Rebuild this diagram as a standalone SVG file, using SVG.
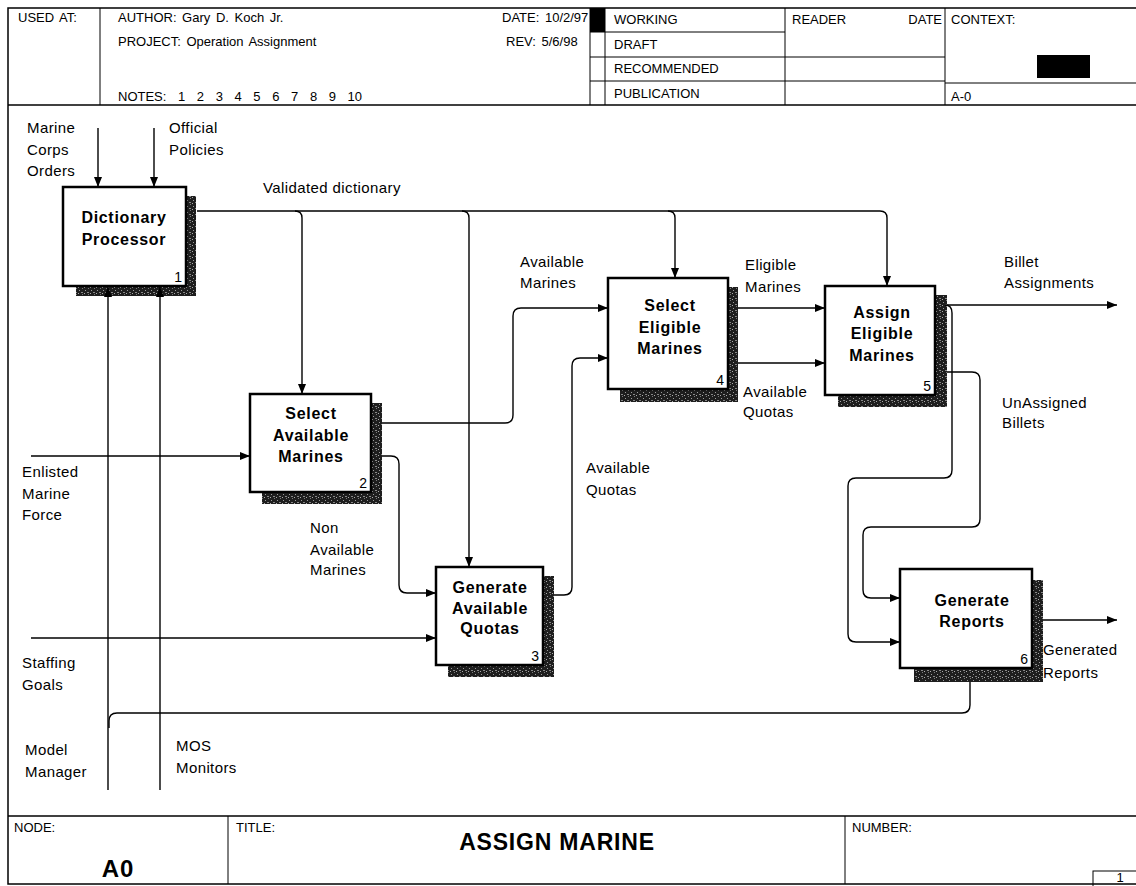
<svg xmlns="http://www.w3.org/2000/svg" width="1136" height="886" viewBox="0 0 1136 886">
<defs>
<marker id="ah" viewBox="0 0 10 8" refX="10" refY="4" markerWidth="11" markerHeight="8" markerUnits="userSpaceOnUse" orient="auto">
<path d="M0,0 L10,4 L0,8 z" fill="#000"/>
</marker>
<pattern id="speck" width="6" height="6" patternUnits="userSpaceOnUse">
<rect width="6" height="6" fill="#1e1e1e"/>
<rect x="1" y="2" width="1" height="1" fill="#9a9a9a"/>
<rect x="4" y="0" width="1" height="1" fill="#7a7a7a"/>
<rect x="3" y="4" width="2" height="1" fill="#888"/>
<rect x="0" y="5" width="1" height="1" fill="#aaa"/>
</pattern>
<style>
.frame{fill:none;stroke:#000;stroke-width:1.5}
.hl{fill:none;stroke:#000;stroke-width:1}
.hdr{font-family:"Liberation Sans",Arial,sans-serif;font-size:13px;fill:#000;word-spacing:2px}
.lbl{font-family:"Liberation Sans",Arial,sans-serif;font-size:15px;letter-spacing:0.4px;fill:#000}
.bt{font-family:"Liberation Sans",Arial,sans-serif;font-size:16px;letter-spacing:0.7px;font-weight:bold;fill:#000;text-anchor:middle}
.num{font-family:"Liberation Sans",Arial,sans-serif;font-size:14px;fill:#000;text-anchor:end}
.box{fill:#fff;stroke:#000;stroke-width:2.5}
.sh{fill:url(#speck)}
.c{fill:none;stroke:#000;stroke-width:1.4}
.a{marker-end:url(#ah)}
</style>
</defs>
<rect width="1136" height="886" fill="#fff"/>
<g id="frame">
<rect class="frame" x="8" y="8" width="1140" height="876"/>
<line class="frame" x1="8" y1="105" x2="1136" y2="105"/>
<line class="frame" x1="8" y1="816" x2="1136" y2="816"/>
<line class="hl" x1="100" y1="8" x2="100" y2="105"/>
<rect x="590" y="8" width="15" height="24" fill="#000"/>
<line class="hl" x1="605" y1="8" x2="605" y2="105"/>
<line class="hl" x1="785" y1="8" x2="785" y2="105"/>
<line class="hl" x1="945" y1="8" x2="945" y2="105"/>
<line class="hl" x1="590" y1="8" x2="590" y2="105"/>
<line class="hl" x1="590" y1="32" x2="785" y2="32"/>
<line class="hl" x1="590" y1="57" x2="945" y2="57"/>
<line class="hl" x1="590" y1="81" x2="945" y2="81"/>
<line class="hl" x1="945" y1="83" x2="1136" y2="83"/>
<rect x="1037" y="55" width="53" height="23" fill="#000"/>
<line class="hl" x1="228" y1="816" x2="228" y2="884"/>
<line class="hl" x1="845" y1="816" x2="845" y2="884"/>
<rect class="hl" x="1093" y="871" width="50" height="16"/>
<text class="hdr" x="18" y="22">USED AT:</text>
<text class="hdr" x="118" y="22">AUTHOR:  Gary D. Koch Jr.</text>
<text class="hdr" x="118" y="46">PROJECT:  Operation Assignment</text>
<text class="hdr" x="118" y="101" style="word-spacing:8px">NOTES: 1 2 3 4 5 6 7 8 9 10</text>
<text class="hdr" x="502" y="22">DATE: 10/2/97</text>
<text class="hdr" x="506" y="46">REV:  5/6/98</text>
<text class="hdr" x="614" y="24">WORKING</text>
<text class="hdr" x="614" y="49">DRAFT</text>
<text class="hdr" x="614" y="73">RECOMMENDED</text>
<text class="hdr" x="614" y="98">PUBLICATION</text>
<text class="hdr" x="792" y="24">READER</text>
<text class="hdr" x="942" y="24" text-anchor="end">DATE</text>
<text class="hdr" x="951" y="24">CONTEXT:</text>
<text class="hdr" x="951" y="101">A-0</text>
<text class="hdr" x="14" y="832">NODE:</text>
<text class="hdr" x="236" y="832">TITLE:</text>
<text class="hdr" x="852" y="832">NUMBER:</text>
<text x="118" y="877" text-anchor="middle" font-family="Liberation Sans, Arial, sans-serif" font-size="24" font-weight="bold" letter-spacing="1">A0</text>
<text x="557" y="850" text-anchor="middle" font-family="Liberation Sans, Arial, sans-serif" font-size="23" font-weight="bold" letter-spacing="0.8">ASSIGN MARINE</text>
<text class="hdr" x="1120" y="882" text-anchor="middle">1</text>
</g>
<g id="labels">
<text class="lbl" x="27" y="133">Marine</text>
<text class="lbl" x="27" y="155">Corps</text>
<text class="lbl" x="27" y="176">Orders</text>
<text class="lbl" x="169" y="133">Official</text>
<text class="lbl" x="169" y="155">Policies</text>
<text class="lbl" x="263" y="193">Validated dictionary</text>
<text class="lbl" x="520" y="267">Available</text>
<text class="lbl" x="520" y="288">Marines</text>
<text class="lbl" x="745" y="270">Eligible</text>
<text class="lbl" x="745" y="292">Marines</text>
<text class="lbl" x="1004" y="267">Billet</text>
<text class="lbl" x="1004" y="288">Assignments</text>
<text class="lbl" x="743" y="397">Available</text>
<text class="lbl" x="743" y="417">Quotas</text>
<text class="lbl" x="1002" y="408">UnAssigned</text>
<text class="lbl" x="1002" y="428">Billets</text>
<text class="lbl" x="586" y="473">Available</text>
<text class="lbl" x="586" y="495">Quotas</text>
<text class="lbl" x="22" y="477">Enlisted</text>
<text class="lbl" x="22" y="499">Marine</text>
<text class="lbl" x="22" y="520">Force</text>
<text class="lbl" x="310" y="533">Non</text>
<text class="lbl" x="310" y="555">Available</text>
<text class="lbl" x="310" y="575">Marines</text>
<text class="lbl" x="22" y="668">Staffing</text>
<text class="lbl" x="22" y="690">Goals</text>
<text class="lbl" x="1043" y="655">Generated</text>
<text class="lbl" x="1043" y="678">Reports</text>
<text class="lbl" x="25" y="755">Model</text>
<text class="lbl" x="25" y="777">Manager</text>
<text class="lbl" x="176" y="751">MOS</text>
<text class="lbl" x="176" y="773">Monitors</text>
</g>
<g id="node1">
<rect class="sh" x="186" y="196" width="10" height="100"/>
<rect class="sh" x="76" y="286" width="120" height="10"/>
<rect class="box" x="63" y="187" width="123" height="99"/>
<text class="bt" x="124" y="223">Dictionary</text>
<text class="bt" x="124" y="245">Processor</text>
<text class="num" x="182" y="282">1</text>
</g>
<g id="node2">
<rect class="sh" x="371" y="403" width="11" height="101"/>
<rect class="sh" x="262" y="492" width="120" height="12"/>
<rect class="box" x="250" y="394" width="121" height="98"/>
<text class="bt" x="311" y="419">Select</text>
<text class="bt" x="311" y="441">Available</text>
<text class="bt" x="311" y="462">Marines</text>
<text class="num" x="367" y="488">2</text>
</g>
<g id="node3">
<rect class="sh" x="543" y="576" width="11" height="101"/>
<rect class="sh" x="448" y="665" width="106" height="12"/>
<rect class="box" x="436" y="567" width="107" height="98"/>
<text class="bt" x="490" y="593">Generate</text>
<text class="bt" x="490" y="614">Available</text>
<text class="bt" x="490" y="634">Quotas</text>
<text class="num" x="539" y="661">3</text>
</g>
<g id="node4">
<rect class="sh" x="728" y="287" width="10" height="115"/>
<rect class="sh" x="620" y="389" width="118" height="13"/>
<rect class="box" x="608" y="278" width="120" height="111"/>
<text class="bt" x="670" y="311">Select</text>
<text class="bt" x="670" y="333">Eligible</text>
<text class="bt" x="670" y="354">Marines</text>
<text class="num" x="724" y="385">4</text>
</g>
<g id="node5">
<rect class="sh" x="935" y="295" width="12" height="112"/>
<rect class="sh" x="838" y="395" width="109" height="12"/>
<rect class="box" x="825" y="286" width="110" height="109"/>
<text class="bt" x="882" y="318">Assign</text>
<text class="bt" x="882" y="339">Eligible</text>
<text class="bt" x="882" y="361">Marines</text>
<text class="num" x="931" y="391">5</text>
</g>
<g id="node6">
<rect class="sh" x="1032" y="580" width="11" height="102"/>
<rect class="sh" x="914" y="668" width="129" height="14"/>
<rect class="box" x="900" y="569" width="132" height="99"/>
<text class="bt" x="972" y="606">Generate</text>
<text class="bt" x="972" y="627">Reports</text>
<text class="num" x="1028" y="664">6</text>
</g>
<g id="connectors">
<path class="c a" d="M98,128 V187"/>
<path class="c a" d="M154,128 V187"/>
<path class="c a" d="M197,211 H880 Q887,211 887,218 V286"/>
<path class="c a" d="M295,211 Q302,211 302,218 V394"/>
<path class="c a" d="M462,211 Q469,211 469,218 V567"/>
<path class="c a" d="M668,211 Q675,211 675,218 V278"/>
<path class="c a" d="M108,790 V287"/>
<path class="c a" d="M160,790 V287"/>
<path class="c a" d="M31,456 H250"/>
<path class="c a" d="M31,638 H436"/>
<path class="c a" d="M382,423 H505 Q513,423 513,415 V316 Q513,308 521,308 H608"/>
<path class="c a" d="M382,456 H391 Q399,456 399,464 V585 Q399,593 407,593 H436"/>
<path class="c a" d="M554,595 H564 Q572,595 572,587 V366 Q572,358 580,358 H608"/>
<path class="c a" d="M738,308 H825"/>
<path class="c a" d="M738,363 H825"/>
<path class="c a" d="M947,305 H1117"/>
<path class="c a" d="M945,305 Q952,305 952,313 V470 Q952,478 944,478 H856 Q848,478 848,486 V634 Q848,642 856,642 H900"/>
<path class="c a" d="M947,372 H972 Q980,372 980,380 V519 Q980,527 972,527 H871 Q863,527 863,535 V590 Q863,598 871,598 H900"/>
<path class="c a" d="M1043,620 H1117"/>
<path class="c" d="M970,682 V705 Q970,713 962,713 H117 Q109,713 109,721 V728"/>
</g>
</svg>
